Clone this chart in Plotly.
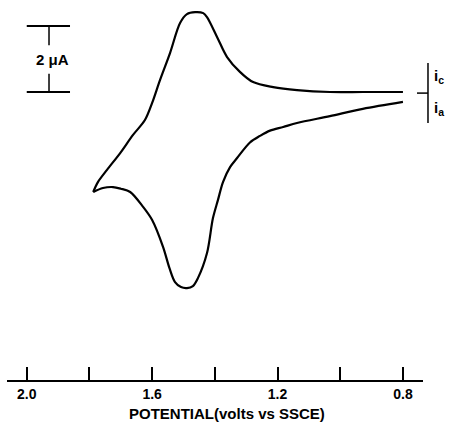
import plotly.graph_objects as go

# Anodic (forward) scan: 0.8 V -> 1.79 V (lower branch), current in uA (cathodic positive)
fwd_potential = [0.800, 0.928, 1.033, 1.138, 1.182, 1.224, 1.256, 1.288, 1.329, 1.351,
                 1.374, 1.390, 1.406, 1.425, 1.454, 1.470, 1.489, 1.508, 1.527, 1.545,
                 1.565, 1.600, 1.629, 1.670, 1.700, 1.725, 1.757, 1.788]
fwd_current = [-0.27, -0.48, -0.70, -0.91, -1.03, -1.14, -1.30, -1.50, -1.97, -2.24,
               -2.70, -3.24, -3.79, -4.85, -5.61, -5.85, -5.91, -5.88, -5.73, -5.30,
               -4.67, -3.85, -3.45, -3.00, -2.90, -2.85, -2.88, -3.00]

# Reverse (cathodic) scan: 1.79 V -> 0.8 V (upper branch)
rev_potential = [1.788, 1.773, 1.744, 1.702, 1.661, 1.623, 1.600, 1.575, 1.543, 1.511,
                 1.489, 1.463, 1.437, 1.425, 1.393, 1.361, 1.320, 1.278, 1.214, 1.138,
                 1.033, 0.928, 0.800]
rev_current = [-3.00, -2.70, -2.33, -1.82, -1.27, -0.82, -0.30, 0.39, 1.21, 2.12,
               2.39, 2.45, 2.42, 2.30, 1.70, 1.09, 0.64, 0.33, 0.18, 0.09,
               0.03, 0.03, 0.03]

tick_vals = [2.0, 1.8, 1.6, 1.4, 1.2, 1.0, 0.8]
tick_text = ["2.0", "", "1.6", "", "1.2", "", "0.8"]

FONT = "Liberation Sans"

fig = go.Figure()
for xs, ys in [(fwd_potential, fwd_current), (rev_potential, rev_current)]:
    fig.add_trace(go.Scatter(x=xs, y=ys, mode="lines",
                             line=dict(color="black", width=2.2, shape="spline", smoothing=0.9),
                             showlegend=False, hoverinfo="skip"))

# scale bar (2 uA) in data coordinates
bar_x0, bar_x1, bar_xm = 2.0, 1.862, 1.929
shape_line = dict(color="black", width=2)
fig.add_shape(type="line", x0=bar_x0, x1=bar_x1, y0=2.03, y1=2.03, line=shape_line)
fig.add_shape(type="line", x0=bar_x0, x1=bar_x1, y0=0.03, y1=0.03, line=shape_line)
fig.add_shape(type="line", x0=bar_xm, x1=bar_xm, y0=2.03, y1=1.45, line=dict(color="black", width=1.5))
fig.add_shape(type="line", x0=bar_xm, x1=bar_xm, y0=0.58, y1=0.03, line=dict(color="black", width=1.5))
fig.add_annotation(x=1.918, y=1.0, text="<b>2 μA</b>", showarrow=False,
                   font=dict(family=FONT, size=15, color="black"))

# ic / ia marker at right (paper coords)
fig.add_shape(type="line", xref="paper", yref="paper", x0=1.012, x1=1.012, y0=0.834, y1=0.676,
              line=dict(color="black", width=1.5))
fig.add_shape(type="line", xref="paper", yref="paper", x0=0.9856, x1=1.012, y0=0.755, y1=0.755,
              line=dict(color="black", width=1.5))
fig.add_annotation(xref="paper", yref="paper", x=1.022, y=(380 - 77) / 380, text="<b>i<sub>c</sub></b>",
                   showarrow=False, xanchor="left", yanchor="middle",
                   font=dict(family=FONT, size=15, color="black"))
fig.add_annotation(xref="paper", yref="paper", x=1.022, y=(380 - 108) / 380, text="<b>i<sub>a</sub></b>",
                   showarrow=False, xanchor="left", yanchor="middle",
                   font=dict(family=FONT, size=15, color="black"))

# axis title as annotation
fig.add_annotation(xref="paper", yref="paper", x=(227 - 7) / 416, y=-33 / 380,
                   text="<b>POTENTIAL(volts vs SSCE)</b>", showarrow=False, yanchor="middle",
                   font=dict(family=FONT, size=15, color="black"))

fig.update_layout(
    width=450, height=429,
    margin=dict(l=7, r=27, t=0, b=49),
    plot_bgcolor="white", paper_bgcolor="white",
    xaxis=dict(range=[2.063, 0.736], showgrid=False, zeroline=False,
               showline=True, linecolor="black", linewidth=2,
               ticks="inside", ticklen=13, tickwidth=1.5, tickcolor="black",
               tickvals=tick_vals, ticktext=[f"<b>{t}</b>" if t else "" for t in tick_text],
               tickfont=dict(family=FONT, size=14, color="black"),
               ticklabelstandoff=0),
    yaxis=dict(range=[-8.697, 2.818], visible=False, showgrid=False, zeroline=False),
)

fig.write_html("out.html")
